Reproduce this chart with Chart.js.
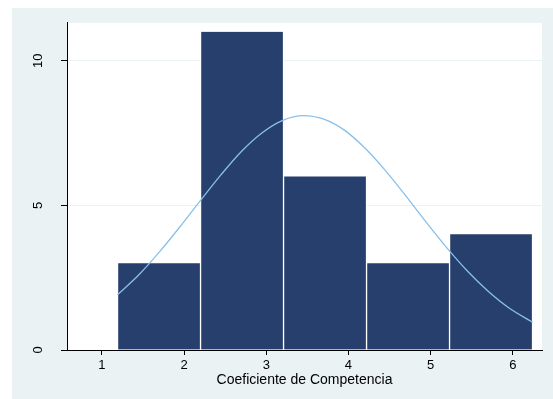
<!DOCTYPE html>
<html>
<head>
<meta charset="utf-8">
<script src="https://cdn.jsdelivr.net/npm/chart.js@4.4.1/dist/chart.umd.min.js"></script>
<style>
  body { margin: 0; background: #fff; }
  #wrap { width: 553px; height: 399px; }
</style>
</head>
<body>
<div id="wrap"><canvas id="histChart"></canvas></div>
<script>
// histogram bins (edges) and counts
const binEdges = [1.19, 2.2, 3.21, 4.22, 5.23, 6.24];
const counts = [3, 11, 6, 3, 4];

// normal density overlay, scaled to frequency
const curveX = [1.19, 1.45, 1.7, 1.95, 2.2, 2.45, 2.7, 2.95, 3.2, 3.45, 3.7,
                3.95, 4.2, 4.45, 4.7, 4.95, 5.2, 5.45, 5.7, 5.95, 6.24];
const curveY = [1.91, 2.6, 3.39, 4.26, 5.17, 6.06, 6.87, 7.51, 7.94, 8.1, 7.98,
                7.6, 6.98, 6.2, 5.32, 4.4, 3.52, 2.72, 2.03, 1.46, 0.96];

const xTicks = [1, 2, 3, 4, 5, 6];
const yTicks = [0, 5, 10];
const xTitle = 'Coeficiente de Competencia';

const family = "'Liberation Sans', Arial, sans-serif";
const tickFont = { family: family, size: 13 };
const titleFont = { family: family, size: 14 };
const outerBg = '#eaf2f3';

const barData = counts.map((c, i) => ({ x: (binEdges[i] + binEdges[i + 1]) / 2, y: c }));
const lineData = curveX.map((x, i) => ({ x: x, y: curveY[i] }));

// paints the grey-blue outer region and the white plot region
const backdrop = {
  id: 'backdrop',
  beforeDraw(chart) {
    const { ctx, chartArea: a } = chart;
    ctx.save();
    ctx.fillStyle = outerBg;
    ctx.fillRect(12, 8, chart.width - 12, chart.height - 8);
    ctx.fillStyle = '#fff';
    ctx.fillRect(a.left, a.top, a.right - a.left, a.bottom - a.top);
    ctx.restore();
  }
};

const ctx = document.getElementById('histChart').getContext('2d');
const histChart = new Chart(ctx, {
  data: {
    datasets: [
      {
        type: 'line',
        data: lineData,
        xAxisID: 'x',
        borderColor: '#88c0ea',
        borderWidth: 1.3,
        pointRadius: 0,
        cubicInterpolationMode: 'monotone',
        order: 0
      },
      {
        type: 'bar',
        data: barData,
        xAxisID: 'xb',
        grouped: false,
        backgroundColor: '#273f6c',
        borderColor: '#fff',
        borderWidth: { left: 1, right: 1, top: 0, bottom: 0 },
        borderSkipped: false,
        barPercentage: 1,
        categoryPercentage: 1,
        order: 1
      }
    ]
  },
  plugins: [backdrop],
  options: {
    responsive: true,
    maintainAspectRatio: false,
    animation: false,
    layout: { padding: { left: 0, top: 22, right: 11, bottom: 0 } },
    plugins: { legend: { display: false }, tooltip: { enabled: false } },
    scales: {
      x: {
        type: 'linear',
        min: 0.575,
        max: 6.355,
        afterBuildTicks: s => { s.ticks = xTicks.map(v => ({ value: v })); },
        afterFit: s => { s.height = 49; },
        grid: { drawOnChartArea: false, tickLength: 5, tickColor: '#000' },
        border: { color: '#000', width: 1 },
        ticks: { color: '#000', font: tickFont, padding: 3, maxRotation: 0 },
        title: { display: true, text: xTitle, color: '#000', font: titleFont, padding: { top: 0, bottom: 10 } }
      },
      // hidden axis for the bars so bar width follows the bin spacing
      xb: {
        type: 'linear',
        display: false,
        offset: false,
        grid: { offset: false },
        min: 0.575,
        max: 6.355,
        afterBuildTicks: s => { s.ticks = barData.map(d => ({ value: d.x })); }
      },
      y: {
        min: 0,
        max: 11.31,
        afterBuildTicks: s => { s.ticks = yTicks.map(v => ({ value: v })); },
        afterFit: s => { s.width = 67; },
        grid: {
          color: c => (c.tick && c.tick.value === 0 ? 'rgba(0,0,0,0)' : outerBg),
          tickLength: 6,
          tickColor: '#000'
        },
        border: { color: '#000', width: 1 },
        ticks: { color: '#000', font: tickFont, padding: 15, minRotation: 90, maxRotation: 90, crossAlign: 'center' }
      }
    }
  }
});
</script>
</body>
</html>
